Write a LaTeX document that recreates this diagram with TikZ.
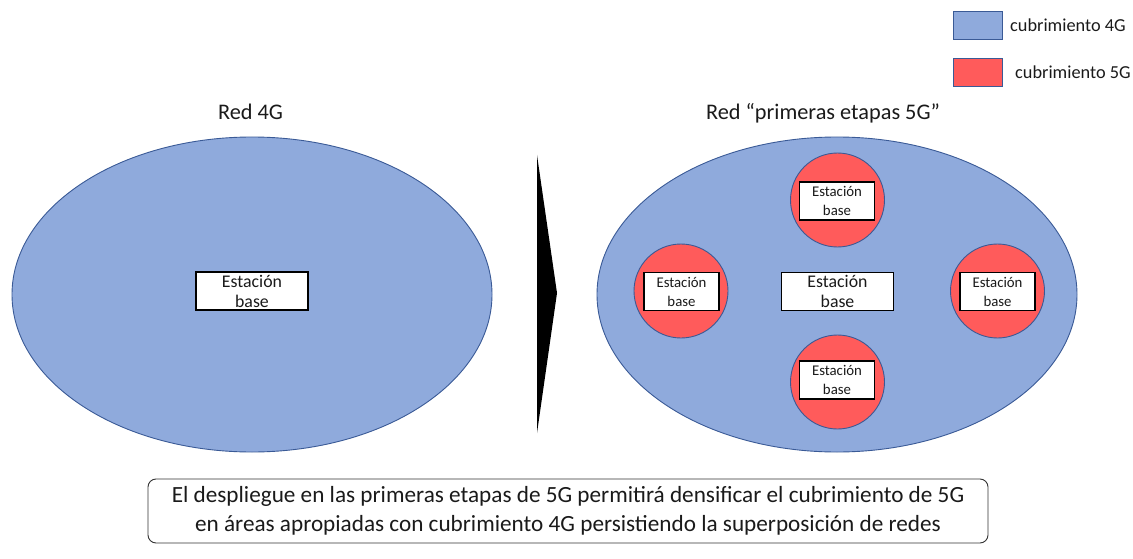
\documentclass[tikz,border=0pt]{standalone}
\usepackage{fontspec}
\setmainfont{Carlito}
\usetikzlibrary{shapes.geometric}
\definecolor{cov4}{HTML}{8FAADC}
\definecolor{cov5}{HTML}{FF5B5B}
\definecolor{edgeblue}{HTML}{3A5A96}
\definecolor{txt}{HTML}{1A1A1A}
\tikzset{
  cell4/.style={ellipse, fill=cov4, draw=edgeblue, line width=0.9pt, minimum width=480pt, minimum height=315pt, inner sep=0pt},
  cell5/.style={circle, fill=cov5, draw=edgeblue, line width=0.9pt, minimum size=94pt, inner sep=0pt},
  bigbs/.style={rectangle, fill=white, draw=black, line width=1.1pt, minimum width=112pt, minimum height=38pt, inner sep=0pt, align=center, font=\fontsize{17.8}{20}\selectfont, text=txt},
  smallbs/.style={rectangle, fill=white, draw=black, line width=1.1pt, minimum width=75pt, minimum height=38pt, inner sep=0pt, align=center, font=\fontsize{14.8}{19}\selectfont, text=txt},
  legbox/.style={rectangle, draw=edgeblue, line width=0.9pt, minimum width=49pt, minimum height=28pt, inner sep=0pt},
  legtxt/.style={anchor=west, inner sep=0pt, font=\fontsize{18.3}{20}\selectfont, text=txt},
  title/.style={anchor=base, inner sep=0pt, font=\fontsize{22.3}{24}\selectfont, text=txt},
}
\begin{document}
\begin{tikzpicture}[x=1pt,y=-1pt]
\useasboundingbox (0,0) rectangle (1133,559);
% legend
\node[legbox, fill=cov4] (leg4) at (977.5,25) {};
\node[legtxt] (leg4t) at (1010,25) {cubrimiento 4G};
\node[legbox, fill=cov5] (leg5) at (977.5,72) {};
\node[legtxt] (leg5t) at (1015,72) {cubrimiento 5G};
% titles
\node[title] (t4) at (250.5,119.5) {Red 4G};
\node[title] (t5) at (823,119.5) {Red “primeras etapas 5G”};
% left network
\node[cell4] (net4) at (252,294.5) {};
\node[bigbs] (bs4) at (252,291) {Estación\\base};
% arrow
\fill[black] (537,155) -- (557,293) -- (537,433) -- cycle;
% right network
\node[cell4] (net5) at (837,294.5) {};
\node[bigbs] (bsc) at (837.5,291.5) {Estación\\base};
\node[cell5] (ct) at (837.5,200) {};
\node[smallbs] (bst) at (837,201) {Estación\\base};
\node[cell5] (cl) at (681,291) {};
\node[smallbs] (bsl) at (681.5,291.5) {Estación\\base};
\node[cell5] (cr) at (997.5,291) {};
\node[smallbs] (bsr) at (997.5,291.5) {Estación\\base};
\node[cell5] (cb) at (837.5,382) {};
\node[smallbs] (bsb) at (837,380) {Estación\\base};
% bottom note
\node[draw=black!80, line width=0.9pt, rounded corners=8pt, minimum width=840pt, minimum height=64pt, inner sep=0pt, align=center, font=\fontsize{23.2}{29}\selectfont, text=txt] (note) at (568,511)
{El despliegue en las primeras etapas de 5G permitirá densificar el cubrimiento de 5G\\en áreas apropiadas con cubrimiento 4G persistiendo la superposición de redes};
\end{tikzpicture}
\end{document}
